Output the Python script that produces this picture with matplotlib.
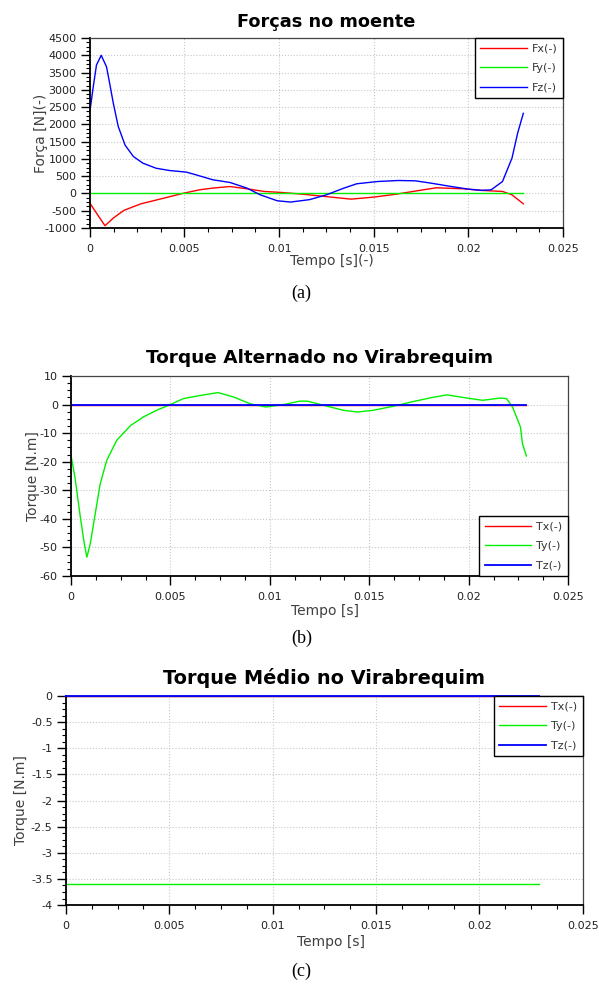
import matplotlib
matplotlib.use("Agg")
import matplotlib.pyplot as plt
from matplotlib.ticker import MultipleLocator, AutoMinorLocator, FuncFormatter

# (a) Forças no moente
t_fz = [0, 0.00018, 0.00035, 0.0006, 0.00088, 0.00106, 0.00124, 0.0015, 0.00186, 0.0023, 0.0028,
        0.0035, 0.0042, 0.0051, 0.0056, 0.0065, 0.0074, 0.0083, 0.009, 0.0099, 0.0106,
        0.0116, 0.0125, 0.0134, 0.0141, 0.0152, 0.0163, 0.0172, 0.018, 0.0191, 0.02,
        0.0207, 0.0212, 0.0218, 0.0223, 0.0226, 0.0229]
fz = [2370, 3090, 3720, 4000, 3670, 3150, 2610, 1940, 1400, 1070, 877,
      730, 665, 617, 540, 395, 318, 154, -40, -212, -250,
      -180, -40, 150, 280, 345, 375, 365, 300, 200, 125,
      90, 105, 345, 1020, 1745, 2320]
t_fx = [0, 0.00035, 0.0008, 0.00124, 0.0018, 0.0027, 0.0037, 0.0049, 0.0058, 0.0065,
        0.0074, 0.0083, 0.0092, 0.0101, 0.0112, 0.0124, 0.0138, 0.015, 0.0162, 0.0173,
        0.0183, 0.0197, 0.0207, 0.0218, 0.0223, 0.0229]
fx = [-280, -570, -935, -713, -490, -300, -165, 0, 106, 155,
      200, 135, 58, 29, -20, -87, -165, -106, -20, 77,
      164, 135, 87, 58, -40, -300]
t_fy = [0, 0.0229]
fy = [0, 0]

# (b) Torque alternado
t_ty = [0, 0.0002, 0.00047, 0.00067, 0.0008, 0.00097, 0.00122, 0.00147, 0.0018, 0.0023,
        0.003, 0.00365, 0.0043, 0.005, 0.00565, 0.0065, 0.0074, 0.0082, 0.009, 0.0098,
        0.0107, 0.0115, 0.0119, 0.0127, 0.0137, 0.0144, 0.0152, 0.0162, 0.0171, 0.0181,
        0.0189, 0.0199, 0.0207, 0.0216, 0.0219, 0.0222, 0.0226, 0.0227, 0.0229]
ty = [-17.8, -25.4, -39.4, -48.7, -53.4, -48.7, -38.2, -27.7, -19.5, -12.5,
      -7.3, -4.3, -2, 0, 2.1, 3.2, 4.2, 2.6, 0.3, -0.85,
      0, 1.2, 1.2, -0.25, -2, -2.6, -2, -0.6, 0.9, 2.4,
      3.4, 2.3, 1.5, 2.3, 2.1, -0.8, -7.8, -13.6, -18]
t_txz = [0, 0.0229]
tx = [0, 0]
tz = [0, 0]

# (c) Torque médio
t_med = [0, 0.0229]
tx_med = [0, 0]
ty_med = [-3.6, -3.6]
tz_med = [0, 0]

RED, GREEN, BLUE = "#ff0000", "#00f000", "#0000ff"
FONT = "DejaVu Sans"

fig = plt.figure(figsize=(5.99, 9.89), dpi=100)


def fmt(v, pos):
    return "%g" % round(v, 6)


def style(ax, ylo, yhi, ystep, xlabel, ylabel, title, tsize, tpad, ylab_x, xlab_xy):
    ax.set_xlim(0, 0.025)
    ax.set_ylim(ylo, yhi)
    ax.xaxis.set_major_locator(MultipleLocator(0.005))
    ax.xaxis.set_minor_locator(AutoMinorLocator(4))
    ax.yaxis.set_major_locator(MultipleLocator(ystep))
    ax.yaxis.set_minor_locator(AutoMinorLocator(4))
    ax.xaxis.set_major_formatter(FuncFormatter(fmt))
    ax.yaxis.set_major_formatter(FuncFormatter(fmt))
    ax.grid(True, which="major", color="#c8c8c8", linestyle=":", linewidth=0.8)
    ax.tick_params(which="major", length=6.5, width=1, labelsize=8, direction="out",
                   labelcolor="#222222")
    ax.tick_params(which="minor", length=3, width=0.8, direction="out")
    ax.tick_params(axis="x", pad=5)
    ax.tick_params(axis="y", pad=3)
    for s in ["left", "bottom"]:
        ax.spines[s].set_linewidth(1.3)
    for s in ["top", "right"]:
        ax.spines[s].set_linewidth(0.9)
        ax.spines[s].set_color("#444444")
    ax.set_xlabel(xlabel, fontsize=10, family=FONT, color="#404040")
    ax.set_ylabel(ylabel, fontsize=10, family=FONT, color="#404040")
    ax.yaxis.set_label_coords(ylab_x, 0.5)
    ax.xaxis.set_label_coords(*xlab_xy)
    ax.set_title(title, fontsize=tsize, fontweight="bold", family=FONT, pad=tpad)


def legend(ax, loc):
    leg = ax.legend(loc=loc, frameon=True, fancybox=False, borderaxespad=0,
                    handlelength=4.2, handletextpad=0.45, borderpad=0.5,
                    labelspacing=0.85, framealpha=1,
                    edgecolor="black", prop={"family": FONT, "size": 8})
    leg.get_frame().set_linewidth(1.0)
    for txt in leg.get_texts():
        txt.set_color("#333333")
    return leg


# panel (a)
ax1 = fig.add_axes([0.150, 0.7695, 0.790, 0.192])
ax1.plot(t_fx, fx, color=RED, lw=1, label="Fx(-)")
ax1.plot(t_fy, fy, color=GREEN, lw=1, label="Fy(-)")
ax1.plot(t_fz, fz, color=BLUE, lw=1, label="Fz(-)")
style(ax1, -1000, 4500, 500, "Tempo [s](-)", "Força [N](-)", "Forças no moente",
      12.8, 8, -0.088, (0.512, -0.137))
legend(ax1, "upper right")

# panel (b)
ax2 = fig.add_axes([0.1185, 0.4176, 0.830, 0.2022])
ax2.plot(t_txz, tx, color=RED, lw=1, label="Tx(-)")
ax2.plot(t_ty, ty, color=GREEN, lw=1, label="Ty(-)")
ax2.plot(t_txz, tz, color=BLUE, lw=1.3, label="Tz(-)")
style(ax2, -60, 10, 10, "Tempo [s]", "Torque [N.m]", "Torque Alternado no Virabrequim",
      13.3, 9.5, -0.062, (0.511, -0.14))
legend(ax2, "lower right")

# panel (c)
ax3 = fig.add_axes([0.110, 0.0849, 0.863, 0.2113])
ax3.plot(t_med, tx_med, color=RED, lw=1, label="Tx(-)", clip_on=False)
ax3.plot(t_med, ty_med, color=GREEN, lw=1, label="Ty(-)")
ax3.plot(t_med, tz_med, color=BLUE, lw=1.3, label="Tz(-)", clip_on=False, zorder=3)
style(ax3, -4, 0, 0.5, "Tempo [s]", "Torque [N.m]", "Torque Médio no Virabrequim",
      13.9, 9, -0.073, (0.513, -0.1435))
legend(ax3, "upper right").set_zorder(5)

for lbl, y in [("(a)", 293), ("(b)", 638), ("(c)", 971)]:
    fig.text(0.503, 1 - y / 989, lbl, ha="center", va="center", fontsize=13,
             family="Liberation Serif")

fig.savefig("out.png", dpi=100)
